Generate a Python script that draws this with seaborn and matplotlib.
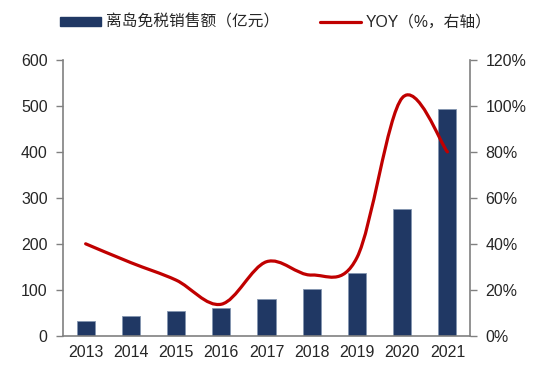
import numpy as np
import matplotlib
matplotlib.use("Agg")
import matplotlib.pyplot as plt
import seaborn as sns
from matplotlib.path import Path
from matplotlib.patches import PathPatch, Patch
from matplotlib.lines import Line2D
from matplotlib.ticker import FuncFormatter

years = ["2013", "2014", "2015", "2016", "2017", "2018", "2019", "2020", "2021"]
sales = [32, 43, 54, 60, 80, 101, 136, 275, 494]          # 亿元
yoy = [40, 31.8, 24.2, 13.7, 32.2, 26.4, 34, 103.5, 80]   # %

bar_color = "#203864"
line_color = "#C00000"
axis_color = "#808080"

sns.set_style("white")
plt.rcParams["font.family"] = ["Liberation Sans", "Noto Sans CJK SC", "DejaVu Sans"]

fig = plt.figure(figsize=(5.41, 3.83), dpi=100)
ax = fig.add_axes([0.1165, 0.1235, 0.7523, 0.7198])

sns.barplot(x=years, y=sales, color=bar_color, width=0.4, saturation=1,
            edgecolor="#8496B0", linewidth=0.6, ax=ax)

ax2 = ax.twinx()

# smoothed line (Excel style bezier through the data points)
xs = np.arange(len(yoy), dtype=float)
pts = np.column_stack([xs, yoy])
verts = [tuple(pts[0])]
codes = [Path.MOVETO]
n = len(pts)
for i in range(n - 1):
    p0 = pts[i - 1] if i > 0 else pts[i]
    p1 = pts[i]
    p2 = pts[i + 1]
    p3 = pts[i + 2] if i + 2 < n else pts[i + 1]
    c1 = p1 + (p2 - p0) / 6
    c2 = p2 - (p3 - p1) / 6
    verts += [tuple(c1), tuple(c2), tuple(p2)]
    codes += [Path.CURVE4] * 3
ax2.add_patch(PathPatch(Path(verts, codes), facecolor="none",
                        edgecolor=line_color, lw=2.3, capstyle="round"))

ax.set_ylim(0, 600)
ax.set_yticks(range(0, 601, 100))
ax2.set_ylim(0, 120)
ax2.set_yticks(range(0, 121, 20))
ax2.yaxis.set_major_formatter(FuncFormatter(lambda v, p: f"{v:.0f}%"))

ax.set_xlim(-0.5, len(years) - 0.5)
ax.set_xticks(np.arange(-0.5, len(years), 1.0))
ax.set_xticklabels([])
ax.set_xticks(np.arange(len(years)), minor=True)
ax.set_xticklabels(years, minor=True)
ax.tick_params(axis="x", which="major", length=5, width=1, color=axis_color, direction="out")
ax.tick_params(axis="x", which="minor", length=0, labelsize=11.5, pad=7)
ax.tick_params(axis="y", length=5, width=1, color=axis_color, direction="out", labelsize=11.5, pad=6)
ax2.tick_params(axis="y", length=5, width=1, color=axis_color, direction="out", labelsize=11.5, pad=6)
ax.set_xlabel("")
ax.set_ylabel("")

for a in (ax, ax2):
    a.spines["top"].set_visible(False)
    for s in ("left", "bottom", "right"):
        a.spines[s].set_color(axis_color)
        a.spines[s].set_linewidth(1.2)
ax.spines["right"].set_visible(False)
ax2.spines["left"].set_visible(False)
ax2.spines["bottom"].set_visible(False)

handles = [Patch(facecolor=bar_color, edgecolor=bar_color),
           Line2D([0], [0], color=line_color, lw=2.3)]
fig.legend(handles, ["离岛免税销售额（亿元）", "YOY（%，右轴）"],
           loc="center", bbox_to_anchor=(0.51, 0.942), ncol=2, frameon=False,
           handlelength=2.6, handleheight=0.55, handletextpad=0.3, columnspacing=2.6,
           prop={"family": ["Liberation Sans", "Noto Sans CJK SC"], "size": 11.3})

fig.savefig("out.png", dpi=100)
